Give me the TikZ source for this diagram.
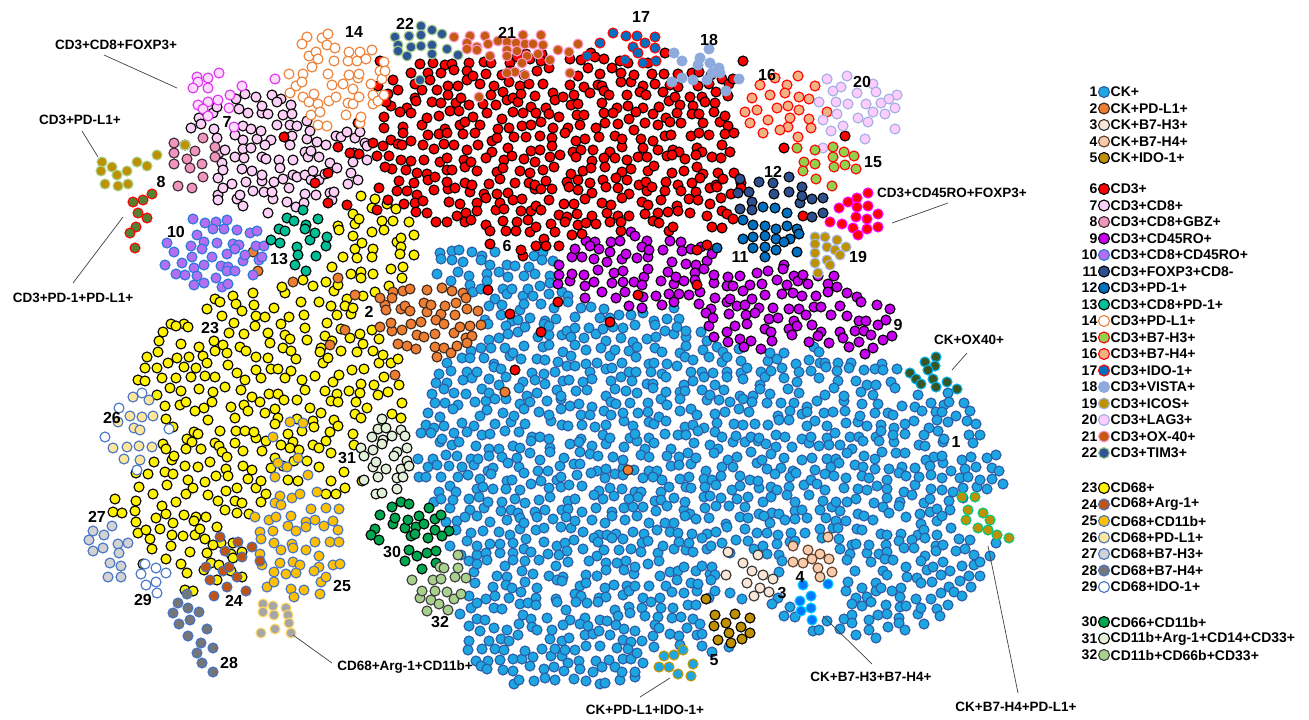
\documentclass[tikz,border=0pt]{standalone}
\usepackage{fontspec}
\setmainfont{Liberation Sans}
\definecolor{ckf}{RGB}{28,167,226}
\definecolor{ckl}{RGB}{46,90,165}
\definecolor{cbl}{RGB}{68,114,196}
\definecolor{gold}{RGB}{191,144,0}
% integer ellipse test: expands to 1 if (\px,\py) lies inside
\def\Ein#1#2#3#4{\ifnum\numexpr(\px-(#1))*(\px-(#1))*100/((#3)*(#3))+(\py-(#2))*(\py-(#2))*100/((#4)*(#4))\relax<100 1\else 0\fi}
% #1 style, #2-#5 box, #6 spacing in tenths, #7 include, #8 exclude, #9 keep percent
\newcommand\dotcloud[9]{%
  \pgfmathtruncatemacro\cnx{(#3-#2)*10/#6}%
  \pgfmathtruncatemacro\cny{(#5-#4)*10/(#6*0.87)}%
  \pgfmathtruncatemacro\cjit{0.038*#6}%
  \foreach \ci in {0,...,\cnx}{%
    \foreach \cj in {0,...,\cny}{%
      \pgfmathrandominteger\jx{-\cjit}{\cjit}%
      \pgfmathrandominteger\jy{-\cjit}{\cjit}%
      \pgfmathrandominteger\kp{1}{100}%
      \ifodd\numexpr\cj\relax \def\hoff{#6/2}\else\def\hoff{0}\fi
      \edef\px{\the\numexpr #2+(\ci*#6+\hoff)/10+\jx\relax}%
      \edef\py{\the\numexpr #4+(\cj*#6*87/100)/10+\jy\relax}%
      \ifnum\kp>#9\relax\else
        \ifnum\numexpr#7\relax>0
          \ifnum\numexpr#8\relax=0
            \path[#1] (\px,\py) circle[radius=5];
          \fi
        \fi
      \fi
    }%
  }%
}
\newcommand\dotlist[2]{\foreach \qx/\qy in {#2}{\path[#1] (\qx,\qy) circle[radius=5];}}
\def\Purple{\Ein{640}{270}{88}{40}+\Ein{770}{305}{85}{45}+\Ein{860}{325}{40}{32}}
\begin{document}
\begin{tikzpicture}[x=1pt,y=-1pt,
  dot/.style={line width=1.1pt},
  c1/.style={dot,fill=ckf,draw=ckl},
  c2/.style={dot,fill={rgb,255:red,237;green,125;blue,49},draw={rgb,255:red,60;green,40;blue,30}},
  c3/.style={dot,fill={rgb,255:red,251;green,229;blue,214},draw={rgb,255:red,50;green,50;blue,50}},
  c4/.style={dot,fill={rgb,255:red,248;green,203;blue,173},draw={rgb,255:red,90;green,60;blue,40}},
  c5/.style={dot,fill=gold,draw=black},
  c6/.style={dot,fill=red,draw=black},
  c7/.style={dot,fill={rgb,255:red,252;green,208;blue,246},draw=black},
  c8/.style={dot,fill={rgb,255:red,240;green,150;blue,190},draw={rgb,255:red,60;green,40;blue,50}},
  c9/.style={dot,fill={rgb,255:red,200;green,0;blue,240},draw=black},
  c10/.style={dot,fill={rgb,255:red,180;green,110;blue,240},draw={rgb,255:red,40;green,120;blue,220}},
  c11/.style={dot,fill={rgb,255:red,47;green,80;blue,143},draw=black},
  c12/.style={dot,fill={rgb,255:red,0;green,112;blue,192},draw=black},
  c13/.style={dot,fill={rgb,255:red,0;green,190;blue,150},draw=black},
  c14/.style={dot,fill=white,draw={rgb,255:red,237;green,125;blue,49}},
  c15/.style={dot,fill={rgb,255:red,146;green,208;blue,80},draw=red},
  c16/.style={dot,fill={rgb,255:red,244;green,177;blue,131},draw=red},
  c17/.style={dot,fill={rgb,255:red,0;green,112;blue,192},draw=red},
  c18/.style={dot,fill={rgb,255:red,142;green,169;blue,219},draw={rgb,255:red,142;green,169;blue,219}},
  c19/.style={dot,fill=gold,draw={rgb,255:red,160;green,185;blue,230}},
  c20/.style={dot,fill={rgb,255:red,255;green,204;blue,255},draw={rgb,255:red,160;green,175;blue,225}},
  c21/.style={dot,fill={rgb,255:red,197;green,90;blue,17},draw={rgb,255:red,255;green,150;blue,200}},
  c22/.style={dot,fill={rgb,255:red,47;green,85;blue,151},draw={rgb,255:red,169;green,209;blue,142}},
  c23/.style={dot,fill=yellow,draw=black},
  c24/.style={dot,fill={rgb,255:red,190;green,85;blue,20},draw=cbl},
  c25/.style={dot,fill={rgb,255:red,255;green,192;blue,0},draw=cbl},
  c26/.style={dot,fill={rgb,255:red,255;green,230;blue,153},draw=cbl},
  c27/.style={dot,fill={rgb,255:red,210;green,210;blue,210},draw=cbl},
  c28/.style={dot,fill={rgb,255:red,118;green,118;blue,118},draw=cbl},
  c29/.style={dot,fill=white,draw=cbl},
  c30/.style={dot,fill={rgb,255:red,0;green,166;blue,80},draw=black},
  c31/.style={dot,fill={rgb,255:red,226;green,240;blue,217},draw=black},
  c32/.style={dot,fill={rgb,255:red,169;green,209;blue,142},draw={rgb,255:red,60;green,60;blue,60}},
  xfox/.style={dot,fill={rgb,255:red,255;green,220;blue,255},draw={rgb,255:red,220;green,50;blue,240}},
  xpdl/.style={dot,fill=gold,draw={rgb,255:red,169;green,209;blue,142}},
  xpdd/.style={dot,fill={rgb,255:red,84;green,130;blue,53},draw=red},
  xro/.style={dot,fill=red,draw={rgb,255:red,255;green,0;blue,255}},
  xox/.style={dot,fill={rgb,255:red,55;green,86;blue,35},draw={rgb,255:red,0;green,176;blue,240}},
  xbp/.style={dot,fill=gold,draw={rgb,255:red,0;green,200;blue,130}},
  xhh/.style={dot,fill={rgb,255:red,0;green,120;blue,255},draw={rgb,255:red,0;green,200;blue,255}},
  xido/.style={dot,fill=ckf,draw=gold},
  xarg/.style={dot,fill={rgb,255:red,166;green,166;blue,166},draw={rgb,255:red,255;green,217;blue,102}},
  num/.style={font=\fontsize{16}{18}\selectfont\bfseries,inner sep=0pt},
  ctext/.style={font=\fontsize{13.5}{16}\selectfont\bfseries,inner sep=0pt},
  leg/.style={font=\fontsize{14}{16}\selectfont\bfseries,inner sep=0pt},
  callout/.style={draw=black!75,line width=0.7pt}
]
\useasboundingbox (0,0) rectangle (1309,720);
\pgfmathsetseed{11}
% CK+ (1)
\dotcloud{c1}{405}{1010}{242}{695}{123}
 {\Ein{610}{480}{200}{210}+\Ein{860}{500}{145}{140}+\Ein{515}{295}{95}{50}+\Ein{770}{420}{130}{90}+\Ein{560}{640}{100}{50}+\Ein{458}{265}{28}{20}}
 {\Purple+\Ein{520}{218}{50}{38}+\Ein{430}{320}{55}{38}+\Ein{410}{535}{38}{40}+\Ein{440}{580}{30}{35}+\Ein{388}{460}{28}{42}+\Ein{812}{570}{30}{30}+\Ein{750}{575}{28}{25}+\Ein{730}{622}{28}{22}+\Ein{676}{665}{25}{18}+\Ein{812}{602}{18}{22}+\Ein{930}{373}{32}{22}+\Ein{985}{517}{30}{25}+\Ein{956}{442}{11}{13}+\Ein{507}{246}{11}{13}}{95}
% CD68+ (23)
\dotcloud{c23}{105}{420}{185}{600}{140}
 {\Ein{270}{400}{140}{110}+\Ein{200}{520}{90}{75}+\Ein{375}{250}{45}{60}+\Ein{330}{300}{60}{30}}
 {\Ein{298}{543}{50}{57}+\Ein{132}{430}{30}{42}+\Ein{430}{320}{55}{38}+\Ein{386}{458}{28}{42}+\Ein{108}{550}{25}{32}+\Ein{155}{578}{16}{20}+\Ein{297}{243}{32}{34}+\Ein{213}{250}{52}{40}+\Ein{210}{328}{17}{13}+\Ein{347}{458}{17}{13}+\Ein{369}{312}{11}{13}+\Ein{234}{601}{17}{13}}{92}
% CK+PD-L1+ (2)
\dotcloud{c2}{370}{490}{280}{360}{125}{\Ein{430}{320}{55}{38}}{\Ein{369}{312}{11}{13}}{100}
\dotlist{c2}{253/252,258/271,293/282,338/278,355/295,380/298,330/345,345/330,395/375,505/392,628/470}
% CD68+CD11b+ (25)
\dotcloud{c25}{245}{352}{484}{602}{130}{\Ein{298}{543}{52}{57}}{\Ein{228}{565}{25}{33}+\Ein{275}{618}{25}{15}+\Ein{342}{586}{17}{13}}{93}
\dotlist{c25}{290/422,303/423,273/437,298/458,278/463,287/467,275/477,308/475}
% 31, 30, 32
\dotcloud{c31}{355}{415}{415}{502}{125}{\Ein{386}{458}{28}{42}}{\Ein{347}{458}{17}{13}}{100}
\dotcloud{c30}{370}{452}{495}{575}{123}{\Ein{410}{535}{40}{38}}{\Ein{392}{552}{17}{13}}{100}
\dotcloud{c32}{410}{472}{545}{615}{128}{\Ein{440}{580}{30}{35}}{\Ein{410}{535}{40}{38}+\Ein{440}{622}{17}{13}}{100}
% CD3+CD45RO+ (9)
\dotcloud{c9}{550}{902}{228}{360}{128}{\Purple}{\Ein{770}{225}{45}{38}+\Ein{740}{257}{17}{13}+\Ein{898}{325}{11}{13}}{95}
% CD3+ (6)
\dotcloud{c6}{375}{745}{50}{262}{125}
 {\Ein{560}{150}{180}{100}+\Ein{425}{135}{45}{80}+\Ein{560}{88}{180}{32}+\Ein{600}{212}{85}{35}+\Ein{520}{220}{50}{38}+\Ein{715}{170}{30}{60}}
 {\Purple+\Ein{338}{78}{52}{50}+\Ein{507}{246}{11}{13}}{95}
% CD3+CD8+ (7)
\dotcloud{c7}{178}{372}{85}{215}{123}{\Ein{275}{150}{97}{64}}{\Ein{195}{163}{25}{30}+\Ein{338}{78}{52}{50}+\Ein{213}{250}{52}{40}+\Ein{297}{243}{32}{34}+\Ein{227}{122}{11}{13}}{92}
\dotlist{c6}{380/61,378/86,386/102,358/123,373/143,338/147,350/153,359/154,328/173,315/183,377/156,385/167,379/188,388/200,347/205,328/203,377/210,284/137,510/314,541/332,558/302,515/370,488/290,845/136,784/148,665/53,743/61,733/79,803/216,733/219,697/250,707/245,697/285,610/322,638/295}
% CD3+PD-L1+ (14)
\dotcloud{c14}{286}{392}{26}{130}{128}{\Ein{338}{78}{53}{52}}{\Ein{354}{32}{17}{13}}{93}
% 10, 13
\dotcloud{c10}{163}{265}{210}{290}{123}{\Ein{213}{250}{52}{40}}{\Ein{176}{232}{17}{13}}{100}
\dotcloud{c13}{263}{330}{210}{277}{130}{\Ein{297}{243}{32}{34}}{\Ein{279}{259}{17}{13}}{95}
% small clusters
\dotlist{c8}{203/138,215/147,174/143,195/151,174/153,215/157,187/159,174/164,202/164,190/168,203/177,178/186,192/188,185/145}
\dotlist{xfox}{197/77,208/78,219/73,198/82,193/88,208/88,242/86,275/79,230/95,208/102,198/105,203/109,218/100,229/108,208/116,234/127}
\dotlist{xpdl}{185/145,157/155,137/162,147/166,102/162,112/167,101/171,127/171,117/175,105/184,118/186,128/184}
\dotlist{xpdd}{152/194,143/200,133/202,138/213,147/218,136/227,130/233,135/248}
\dotlist{c22}{421/26,432/30,395/37,409/36,421/35,442/34,398/45,411/47,421/46,432/45,398/51,407/56,432/54,447/49,458/55,420/80}
\dotlist{c21}{454/37,470/36,485/36,523/35,541/35,467/43,477/47,488/44,498/41,507/42,516/43,525/44,533/44,543/45,558/50,569/52,578/44,467/49,477/50,507/50,517/51,527/56,538/54,550/60,490/56,507/56,522/63,515/72,525/75,507/73,570/73,479/97}
\dotlist{c17}{613/33,626/36,637/36,655/37,600/43,633/47,645/43,655/48,587/56,638/53,625/60,643/63,656/61}
\dotlist{c18}{674/53,682/61,700/58,709/49,698/65,710/63,719/68,720/73,672/82,682/78,693/80,707/80,712/73,726/91,739/79}
\dotlist{c16}{798/76,815/86,787/85,785/93,799/97,809/99,788/106,799/110,809/119,827/112,788/127,811/128,798/137,752/98,760/85,770/95,757/110,768/120,777/108,750/123,763/133,775/78,780/130,790/118,745/112}
\dotlist{c20}{827/79,847/76,873/84,833/91,841/87,857/93,876/92,897/95,819/102,836/102,848/104,866/104,881/103,889/99,895/108,837/114,858/118,873/112,885/114,823/120,843/126,831/131,868/122,895/129,865/139,823/148}
\dotlist{c15}{797/148,815/150,833/147,844/152,854/156,833/157,804/162,815/164,834/167,845/165,856/169,803/171,816/179,832/186}
\dotlist{c11}{740/179,759/182,749/192,773/183,789/177,738/193,752/202,774/194,789/192,802/187,812/199,823/198,800/203,740/209,752/210,812/217,823/213,802/196}
\dotlist{c12}{763/207,775/208,787/213,743/220,753/225,765/226,776/229,787/226,797/229,743/239,753/237,765/236,776/239,790/239,799/234,753/248,765/247,776/250,784/242,797/252,765/257,717/248}
\dotlist{xro}{868/193,857/198,848/202,839/208,857/207,868/206,830/222,842/224,856/217,867/219,878/214,853/228,867/229,878/227,858/235}
\dotlist{c19}{815/237,825/237,837/240,815/244,827/247,835/250,846/247,815/253,827/260,840/255,815/263,830/265,818/273}
\dotlist{xox}{936/357,925/362,935/366,928/370,910/373,916/379,933/379,921/384,936/387,947/382,957/389}
\dotlist{xbp}{962/497,975/497,968/510,983/513,990/520,966/520,978/528,988/530,997/535,1009/538}
\dotlist{c3}{728/552,758/555,743/563,726/575,752/571,763/575,773/579,747/583,760/588,769/592,754/596}
\dotlist{c4}{828/537,793/546,808/550,820/554,829/559,793/562,803/563,812/559,818/568,832/572,820/577}
\dotlist{xhh}{803/585,828/584,811/596,800/601,811/608,801/611,812/620}
\dotlist{c5}{706/599,715/615,735/614,750/618,714/626,726/623,741/627,729/633,718/640,731/643,742/639,750/633}
\dotlist{xido}{664/656,674/655,683/650,693/664,659/667,669/667,678/674,691/676}
\dotlist{c26}{133/397,149/400,130/416,142/417,153/416,118/422,134/428,140/430,113/448,127/447,139/446,152/447,124/459,140/460}
\dotlist{c29}{142/393,119/408,105/437,137/470,169/429}
\dotlist{c27}{112/526,93/531,104/535,89/540,118/544,128/543,93/551,103/548,119/553,110/563,121/566,108/577,121/577}
\dotlist{c29}{145/564,156/568,166/573,141/574,156/582,146/585,157/593}
\dotlist{c28}{187/594,178/603,188/608,199/612,173/613,190/620,179/624,207/629,188/636,201/643,197/653,213/648,202/663,213/672}
\dotlist{c24}{220/537,238/542,225/551,252/547,242/557,260/561,206/567,223/571,229/567,237/577,210/580,227/587,246/591,214/596}
\dotlist{xarg}{263/604,273/606,286/608,263/612,274/615,288/615,261/633,275/629,289/623,291/633}
% cluster numbers
\foreach \nm/\nx/\ny in {14/354/32,22/405/24,21/507/33,17/641/17,18/709/40,16/767/75,20/862/82,7/227/122,8/161/182,15/873/162,12/773/172,10/176/232,13/279/259,11/740/257,19/858/257,6/507/246,2/369/312,23/210/328,9/898/325,1/956/442,26/112/418,31/347/458,27/97/517,30/392/552,29/143/600,24/234/601,25/342/586,28/229/663,3/782/593,4/800/577,5/714/660,32/440/622}
  {\node[num] (num\nm) at (\nx,\ny) {\nm};}
% callouts
\node[ctext] (tFox) at (116,45) {CD3+CD8+FOXP3+};
\coordinate (sFox) at (104,55); \coordinate (eFox) at (177,88);
\draw[callout] (sFox) -- (eFox);
\node[ctext] (tPdl) at (80,120) {CD3+PD-L1+};
\coordinate (sPdl) at (82,131); \coordinate (ePdl) at (98,157);
\draw[callout] (sPdl) -- (ePdl);
\node[ctext] (tPdd) at (73,298) {CD3+PD-1+PD-L1+};
\coordinate (sPdd) at (73,283); \coordinate (ePdd) at (123,217);
\draw[callout] (sPdd) -- (ePdd);
\node[ctext] (tRo) at (952,193) {CD3+CD45RO+FOXP3+};
\coordinate (sRo) at (948,203); \coordinate (eRo) at (892,223);
\draw[callout] (sRo) -- (eRo);
\node[ctext] (tOx) at (969,340) {CK+OX40+};
\coordinate (sOx) at (967,353); \coordinate (eOx) at (952,370);
\draw[callout] (sOx) -- (eOx);
\node[ctext] (tArg) at (405,667) {CD68+Arg-1+CD11b+};
\coordinate (sArg) at (332,663); \coordinate (eArg) at (293,635);
\draw[callout] (sArg) -- (eArg);
\node[ctext] (tIdo) at (645,710) {CK+PD-L1+IDO-1+};
\coordinate (sIdo) at (640,697); \coordinate (eIdo) at (670,678);
\draw[callout] (sIdo) -- (eIdo);
\node[ctext] (tHh) at (871,677) {CK+B7-H3+B7-H4+};
\coordinate (sHh) at (872,664); \coordinate (eHh) at (823,616);
\draw[callout] (sHh) -- (eHh);
\node[ctext] (tBp) at (1016,707) {CK+B7-H4+PD-L1+};
\coordinate (sBp) at (1018,693); \coordinate (eBp) at (988,546);
\draw[callout] (sBp) -- (eBp);
% legend
\foreach \lgn/\lgs/\lgt/\lgy in {1/c1/CK+/92,2/c2/CK+PD-L1+/108.5,3/c3/CK+B7-H3+/125,4/c4/CK+B7-H4+/141.5,5/c5/CK+IDO-1+/158,
 6/c6/CD3+/189,7/c7/CD3+CD8+/205.5,8/c8/CD3+CD8+GBZ+/222,9/c9/CD3+CD45RO+/238.5,10/c10/CD3+CD8+CD45RO+/255,11/c11/CD3+FOXP3+CD8-/271.5,12/c12/CD3+PD-1+/288,13/c13/CD3+CD8+PD-1+/304.5,14/c14/CD3+PD-L1+/321,15/c15/CD3+B7-H3+/337.5,16/c16/CD3+B7-H4+/354,17/c17/CD3+IDO-1+/370.5,18/c18/CD3+VISTA+/387,19/c19/CD3+ICOS+/403.5,20/c20/CD3+LAG3+/420,21/c21/CD3+OX-40+/436.5,22/c22/CD3+TIM3+/453,
 23/c23/CD68+/488,24/c24/CD68+Arg-1+/504.5,25/c25/CD68+CD11b+/521,26/c26/CD68+PD-L1+/537.5,27/c27/CD68+B7-H3+/554,28/c28/CD68+B7-H4+/570.5,29/c29/CD68+IDO-1+/587,
 30/c30/CD66+CD11b+/622,31/c31/CD11b+Arg-1+CD14+CD33+/638.5,32/c32/CD11b+CD66b+CD33+/655}
{
  \node[leg,anchor=east] (ln\lgn) at (1097.5,\lgy) {\lgn};
  \path[\lgs] (1104,\lgy) circle[radius=5.5];
  \node[leg,anchor=west] (lt\lgn) at (1110.5,\lgy) {\lgt};
}
\end{tikzpicture}
\end{document}
